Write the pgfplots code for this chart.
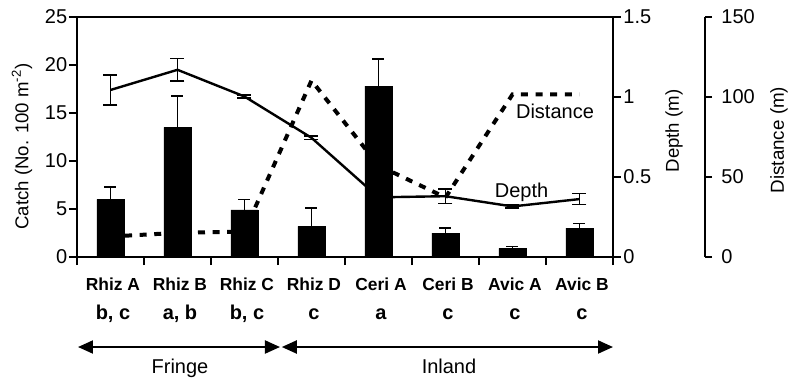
\documentclass[border=0pt]{standalone}
\usepackage{pgfplots}
\pgfplotsset{compat=1.18}
\usepackage{fontspec}
\setmainfont{Liberation Sans}
\usetikzlibrary{arrows.meta}
\pgfplotsset{
  common/.style={scale only axis, width=268pt, height=120pt, at={(0pt,0pt)}, anchor=south west,
    xmin=-0.5, xmax=7.5, clip=false,
    /pgf/number format/assume math mode=true,
    tick align=outside, major tick length=4pt,
    every tick/.style={black, line width=0.9pt},
    axis line style={line width=0.9pt},
    tick label style={font=\fontsize{10}{12}\selectfont},
  },
}
\begin{document}
\begin{tikzpicture}
\useasboundingbox (-38.5pt,-62.5pt) rectangle (356pt,128.5pt);
% depth axis
\begin{axis}[common, ymin=0, ymax=1.5, axis y line*=right, axis x line=none,
  ytick={0,0.5,1,1.5}, yticklabel style={inner sep=1pt}]
\addplot[black, line width=1.2pt, mark=none,
  error bars/.cd, y dir=both, y explicit,
  error bar style={line width=0.8pt}, error mark options={rotate=90, mark size=3.5pt, line width=0.8pt}]
  table[x=x, y=y, y error=e] {
x y e
0 1.044 0.095
1 1.17 0.07
2 1.003 0.01
3 0.745 0.01
4 0.373 0
5 0.38 0.045
6 0.316 0.008
7 0.362 0.035
};
\end{axis}
% distance line
\begin{axis}[common, ymin=0, ymax=150, hide axis]
\addplot[black, line width=2pt, dash pattern=on 3.5pt off 3.8pt, mark=none] table[x=x, y=y] {
x y
0 12.8
1 15.1
2 15.9
3 110.3
4 57.2
5 37.2
6 101.6
7 101.6
};
\end{axis}
% distance ruler
\begin{axis}[scale only axis, width=5pt, height=120pt, at={(314pt,0pt)}, anchor=south east,
  xmin=0, xmax=1, ymin=0, ymax=150, axis y line*=right, axis x line=none,
  ytick={0,50,100,150}, tick align=outside, major tick length=3.5pt,
  every tick/.style={black, line width=0.9pt},
  axis line style={line width=0.9pt},
  /pgf/number format/assume math mode=true,
  tick label style={font=\fontsize{10}{12}\selectfont},
  yticklabel style={inner sep=4.5pt}]
\addplot[draw=none] coordinates {(0,0)};
\end{axis}
% catch axis
\begin{axis}[common, ymin=0, ymax=25, tick pos=left, ytick={0,5,...,25},
  xtick={-0.5,0.5,...,7.5}, xticklabels={}, yticklabel style={inner sep=0.7pt}]
\addplot[ybar, bar width=13.5pt, fill=black, draw=black,
  error bars/.cd, y dir=plus, y explicit,
  error bar style={line width=0.8pt}, error mark options={rotate=90, mark size=3pt, line width=0.8pt}]
  table[x=x, y=y, y error=e] {
x y e
0 6.0 1.3
1 13.5 3.3
2 4.9 1.1
3 3.2 1.9
4 17.8 2.8
5 2.5 0.5
6 0.9 0.18
7 3.0 0.5
};
\end{axis}
% in-plot labels
\node[anchor=base, font=\fontsize{10}{12}\selectfont] at (239pt,69.4pt) {Distance};
\node[anchor=base, font=\fontsize{10}{12}\selectfont] at (222.3pt,30pt) {Depth};
% axis titles
\node[rotate=90, font=\fontsize{9.3}{11}\selectfont] at (-27.5pt,55.3pt) {Catch (No. 100 m\textsuperscript{-2})};
\node[rotate=90, font=\fontsize{9.3}{11}\selectfont] at (298.5pt,63pt) {Depth (m)};
\node[rotate=90, font=\fontsize{9.4}{11}\selectfont] at (351pt,58.5pt) {Distance (m)};
% category labels
\begin{scope}[every node/.style={anchor=base, font=\fontsize{8.7}{10}\selectfont\bfseries}]
\node at (18pt,-16.9pt) {Rhiz A};
\node at (51.5pt,-16.9pt) {Rhiz B};
\node at (85pt,-16.9pt) {Rhiz C};
\node at (118.5pt,-16.9pt) {Rhiz D};
\node at (152pt,-16.9pt) {Ceri A};
\node at (185.5pt,-16.9pt) {Ceri B};
\node at (219pt,-16.9pt) {Avic A};
\node at (252.5pt,-16.9pt) {Avic B};
\end{scope}
\begin{scope}[every node/.style={anchor=base, font=\fontsize{10}{12}\selectfont\bfseries}]
\node at (18pt,-31.2pt) {b, c};
\node at (51.5pt,-31.2pt) {a, b};
\node at (85pt,-31.2pt) {b, c};
\node at (118.5pt,-31.2pt) {c};
\node at (152pt,-31.2pt) {a};
\node at (185.5pt,-31.2pt) {c};
\node at (219pt,-31.2pt) {c};
\node at (252.5pt,-31.2pt) {c};
\end{scope}
% arrows
\draw[line width=1pt, {Triangle[length=7.5pt,width=6.5pt]}-{Triangle[length=7.5pt,width=6.5pt]}] (0.5pt,-45pt) -- (101.5pt,-45pt);
\draw[line width=1pt, {Triangle[length=7.5pt,width=6.5pt]}-{Triangle[length=7.5pt,width=6.5pt]}] (102.4pt,-45pt) -- (268pt,-45pt);
\node[anchor=base, font=\fontsize{10}{12}\selectfont] at (51.5pt,-58pt) {Fringe};
\node[anchor=base, font=\fontsize{10}{12}\selectfont] at (186pt,-58pt) {Inland};
\end{tikzpicture}
\end{document}
